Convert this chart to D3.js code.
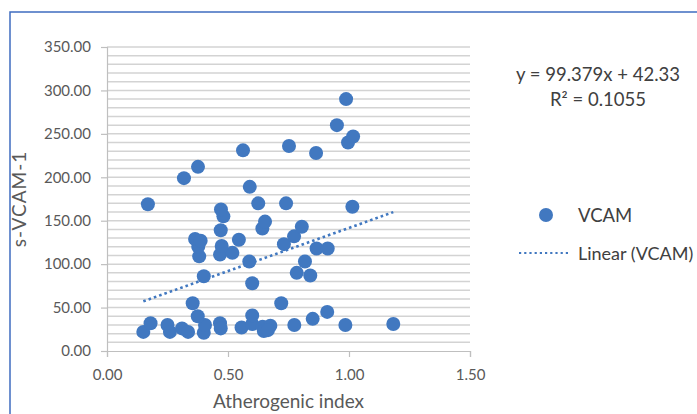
<!DOCTYPE html>
<html>
<head>
<meta charset="utf-8">
<title>VCAM scatter</title>
<script src="https://cdn.jsdelivr.net/npm/d3@7"></script>
<style>
  body { margin: 0; background: #fff; }
  text { font-family: Lato, "Open Sans", sans-serif; }
</style>
</head>
<body>
<script>
// atherogenic index values
var athIndex = [
  0.15, 0.18, 0.25, 0.26, 0.31, 0.335, 0.40, 0.405, 0.467, 0.47,
  0.556, 0.60, 0.643, 0.648, 0.675, 0.665, 0.774, 0.985, 1.183, 0.85,
  0.91, 0.354, 0.375, 0.60, 0.72, 0.60, 0.40, 0.784, 0.84, 0.588,
  0.818, 0.381, 0.467, 0.518, 0.377, 0.474, 0.731, 0.866, 0.912, 0.364,
  0.387, 0.545, 0.773, 0.47, 0.642, 0.805, 0.653, 0.481, 0.471, 0.169,
  0.625, 0.74, 1.014, 0.59, 0.318, 0.376, 0.562, 0.752, 0.864, 0.996,
  1.017, 0.95, 0.988
];
// s-VCAM-1 values
var vcam = [
  22, 32, 30, 22, 26, 22, 21, 30, 32, 26,
  27, 31, 28, 23, 29, 24, 30, 30, 31, 37,
  45, 55, 40, 41, 55, 78, 86, 90, 87, 103,
  103, 109, 111, 113, 120, 121, 123, 118, 118, 129,
  127, 128, 132, 139, 141, 143, 149, 155, 163, 169,
  170, 170, 166, 189, 199, 212, 231, 236, 228, 240,
  247, 260, 290
];
var xTicks = [0, 0.5, 1, 1.5];
var yTicks = [0, 50, 100, 150, 200, 250, 300, 350];
var slope = 99.379, intercept = 42.33, r2 = 0.1055;

var width = 697, height = 414;
var blue = "#4178c0", grey = "#595959", dark = "#404040";

var svg = d3.select("body").append("svg")
  .attr("width", width)
  .attr("height", height);

// outer chart border
svg.append("rect")
  .attr("x", 10).attr("y", 12)
  .attr("width", 720).attr("height", 440)
  .attr("fill", "none")
  .attr("stroke", "#3f6cc0")
  .attr("stroke-width", 1.5);

var x = d3.scaleLinear().domain([0, 1.5]).range([107, 470]);
var y = d3.scaleLinear().domain([0, 350]).range([351, 47]);

// gridlines every 10
svg.append("g")
  .selectAll("line")
  .data(d3.range(10, 351, 10))
  .enter().append("line")
  .attr("x1", x(0)).attr("x2", x(1.5))
  .attr("y1", function(d) { return y(d); })
  .attr("y2", function(d) { return y(d); })
  .attr("stroke", "#d3d3d3")
  .attr("stroke-width", 1.5);

// axes
var yAxis = svg.append("g")
  .attr("transform", "translate(" + x(0) + ",0)")
  .call(d3.axisLeft(y).tickValues(yTicks).tickFormat(d3.format(".2f")).tickSize(6).tickPadding(10));
var xAxis = svg.append("g")
  .attr("transform", "translate(0," + y(0) + ")")
  .call(d3.axisBottom(x).tickValues(xTicks).tickFormat(d3.format(".2f")).tickSize(6).tickPadding(12));

[xAxis, yAxis].forEach(function(a) {
  a.selectAll("path, line").attr("stroke", "#bfbfbf").attr("stroke-width", 1.2);
  a.selectAll("text").attr("fill", grey).attr("font-size", 15)
    .attr("font-family", "Lato, 'Open Sans', sans-serif");
});

// trend line over the data range
var xMin = d3.min(athIndex), xMax = d3.max(athIndex);
svg.append("line")
  .attr("x1", x(xMin)).attr("y1", y(slope * xMin + intercept))
  .attr("x2", x(xMax)).attr("y2", y(slope * xMax + intercept))
  .attr("stroke", blue)
  .attr("stroke-width", 2.6)
  .attr("stroke-dasharray", "2.6,3");

// points
svg.append("g")
  .selectAll("circle")
  .data(athIndex)
  .enter().append("circle")
  .attr("cx", function(d) { return x(d); })
  .attr("cy", function(d, i) { return y(vcam[i]); })
  .attr("r", 7)
  .attr("fill", blue);

// axis titles
svg.append("text")
  .attr("x", (x(0) + x(1.5)) / 2).attr("y", 408)
  .attr("text-anchor", "middle")
  .attr("fill", grey).attr("font-size", 19)
  .text("Atherogenic index");
svg.append("text")
  .attr("transform", "translate(26," + (y(0) + y(350)) / 2 + ") rotate(-90)")
  .attr("text-anchor", "middle")
  .attr("fill", grey).attr("font-size", 19)
  .attr("letter-spacing", 1)
  .text("s-VCAM-1");

// equation
svg.append("text")
  .attr("x", 598).attr("y", 81)
  .attr("text-anchor", "middle")
  .attr("fill", dark).attr("font-size", 18.5)
  .text("y = " + slope + "x + " + intercept);
svg.append("text")
  .attr("x", 598).attr("y", 106)
  .attr("text-anchor", "middle")
  .attr("fill", dark).attr("font-size", 18.5)
  .text("R\u00b2 = " + r2);

// legend
svg.append("circle")
  .attr("cx", 546).attr("cy", 215).attr("r", 7).attr("fill", blue);
svg.append("text")
  .attr("x", 578).attr("y", 222)
  .attr("fill", dark).attr("font-size", 18.5)
  .text("VCAM");
svg.append("line")
  .attr("x1", 519).attr("x2", 568).attr("y1", 253).attr("y2", 253)
  .attr("stroke", blue).attr("stroke-width", 2.2)
  .attr("stroke-dasharray", "2.2,3");
svg.append("text")
  .attr("x", 578).attr("y", 260)
  .attr("fill", dark).attr("font-size", 18)
  .text("Linear (VCAM)");
</script>
</body>
</html>
